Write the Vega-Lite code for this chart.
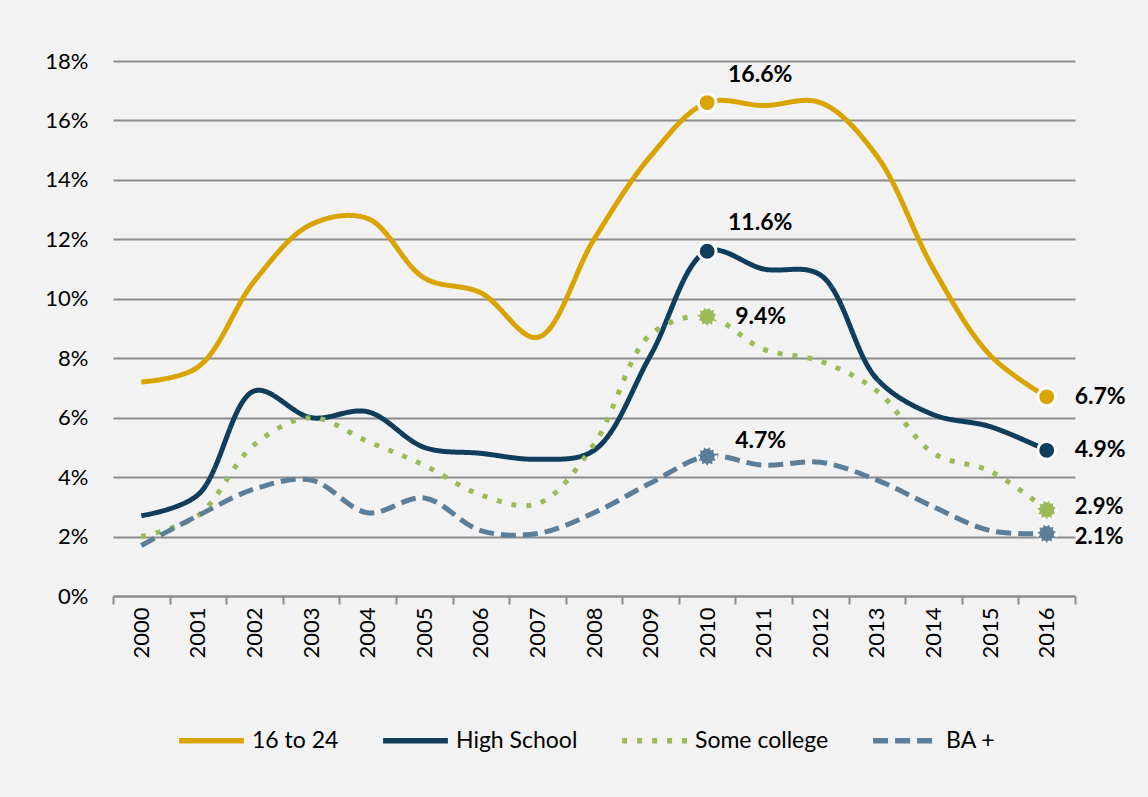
{
  "$schema": "https://vega.github.io/schema/vega-lite/v6.json",
  "width": 962,
  "height": 535,
  "autosize": {"type": "none"},
  "padding": {"left": 113, "top": 61, "right": 73, "bottom": 201},
  "background": "#f2f2f2",
  "config": {
    "view": {"stroke": null},
    "font": "Lato",
    "text": {"font": "Lato"}
  },
  "data": {"values": [
    {"year": "2000", "series": "16 to 24", "value": 0.072},
    {"year": "2001", "series": "16 to 24", "value": 0.077},
    {"year": "2002", "series": "16 to 24", "value": 0.106},
    {"year": "2003", "series": "16 to 24", "value": 0.125},
    {"year": "2004", "series": "16 to 24", "value": 0.127},
    {"year": "2005", "series": "16 to 24", "value": 0.107},
    {"year": "2006", "series": "16 to 24", "value": 0.102},
    {"year": "2007", "series": "16 to 24", "value": 0.087},
    {"year": "2008", "series": "16 to 24", "value": 0.120},
    {"year": "2009", "series": "16 to 24", "value": 0.148},
    {"year": "2010", "series": "16 to 24", "value": 0.166},
    {"year": "2011", "series": "16 to 24", "value": 0.165},
    {"year": "2012", "series": "16 to 24", "value": 0.166},
    {"year": "2013", "series": "16 to 24", "value": 0.148},
    {"year": "2014", "series": "16 to 24", "value": 0.110},
    {"year": "2015", "series": "16 to 24", "value": 0.081},
    {"year": "2016", "series": "16 to 24", "value": 0.067},
    {"year": "2000", "series": "High School", "value": 0.027},
    {"year": "2001", "series": "High School", "value": 0.034},
    {"year": "2002", "series": "High School", "value": 0.069},
    {"year": "2003", "series": "High School", "value": 0.060},
    {"year": "2004", "series": "High School", "value": 0.062},
    {"year": "2005", "series": "High School", "value": 0.050},
    {"year": "2006", "series": "High School", "value": 0.048},
    {"year": "2007", "series": "High School", "value": 0.046},
    {"year": "2008", "series": "High School", "value": 0.049},
    {"year": "2009", "series": "High School", "value": 0.081},
    {"year": "2010", "series": "High School", "value": 0.116},
    {"year": "2011", "series": "High School", "value": 0.110},
    {"year": "2012", "series": "High School", "value": 0.108},
    {"year": "2013", "series": "High School", "value": 0.073},
    {"year": "2014", "series": "High School", "value": 0.061},
    {"year": "2015", "series": "High School", "value": 0.057},
    {"year": "2016", "series": "High School", "value": 0.049},
    {"year": "2000", "series": "Some college", "value": 0.020},
    {"year": "2001", "series": "Some college", "value": 0.027},
    {"year": "2002", "series": "Some college", "value": 0.051},
    {"year": "2003", "series": "Some college", "value": 0.060},
    {"year": "2004", "series": "Some college", "value": 0.052},
    {"year": "2005", "series": "Some college", "value": 0.044},
    {"year": "2006", "series": "Some college", "value": 0.034},
    {"year": "2007", "series": "Some college", "value": 0.031},
    {"year": "2008", "series": "Some college", "value": 0.051},
    {"year": "2009", "series": "Some college", "value": 0.088},
    {"year": "2010", "series": "Some college", "value": 0.094},
    {"year": "2011", "series": "Some college", "value": 0.083},
    {"year": "2012", "series": "Some college", "value": 0.079},
    {"year": "2013", "series": "Some college", "value": 0.069},
    {"year": "2014", "series": "Some college", "value": 0.048},
    {"year": "2015", "series": "Some college", "value": 0.042},
    {"year": "2016", "series": "Some college", "value": 0.029},
    {"year": "2000", "series": "BA +", "value": 0.017},
    {"year": "2001", "series": "BA +", "value": 0.027},
    {"year": "2002", "series": "BA +", "value": 0.036},
    {"year": "2003", "series": "BA +", "value": 0.039},
    {"year": "2004", "series": "BA +", "value": 0.028},
    {"year": "2005", "series": "BA +", "value": 0.033},
    {"year": "2006", "series": "BA +", "value": 0.022},
    {"year": "2007", "series": "BA +", "value": 0.021},
    {"year": "2008", "series": "BA +", "value": 0.028},
    {"year": "2009", "series": "BA +", "value": 0.038},
    {"year": "2010", "series": "BA +", "value": 0.047},
    {"year": "2011", "series": "BA +", "value": 0.044},
    {"year": "2012", "series": "BA +", "value": 0.045},
    {"year": "2013", "series": "BA +", "value": 0.039},
    {"year": "2014", "series": "BA +", "value": 0.030},
    {"year": "2015", "series": "BA +", "value": 0.022},
    {"year": "2016", "series": "BA +", "value": 0.021}
  ]},
  "encoding": {
    "x": {
      "field": "year", "type": "ordinal",
      "scale": {"type": "band", "paddingInner": 0, "paddingOuter": 0},
      "bandPosition": 0.5,
      "axis": {
        "title": null, "labelAngle": -90, "tickBand": "extent",
        "labelFont": "Lato", "labelFontSize": 22, "labelColor": "#000000",
        "domainColor": "#8c8c8c", "domainWidth": 2,
        "tickColor": "#8c8c8c", "tickWidth": 2, "tickSize": 8,
        "labelPadding": 3, "grid": false
      }
    },
    "y": {
      "field": "value", "type": "quantitative",
      "scale": {"domain": [0, 0.18], "nice": false},
      "axis": {
        "title": null, "format": ".0%",
        "values": [0, 0.02, 0.04, 0.06, 0.08, 0.1, 0.12, 0.14, 0.16, 0.18],
        "labelFont": "Lato", "labelFontSize": 22, "labelColor": "#000000",
        "domain": false, "ticks": false, "labelPadding": 25,
        "grid": true, "gridColor": "#8c8c8c", "gridWidth": 2
      }
    }
  },
  "layer": [
    {
      "mark": {"type": "line", "interpolate": "catmull-rom", "strokeWidth": 5},
      "encoding": {
        "color": {
          "field": "series", "type": "nominal",
          "scale": {"domain": ["16 to 24", "High School", "Some college", "BA +"],
                    "range": ["#d9a300", "#0f3d5c", "#9bbb59", "#5b7f9b"]},
          "legend": {
            "title": null, "orient": "none", "direction": "horizontal",
            "legendX": 63, "legendY": 644,
            "symbolType": "stroke", "symbolSize": 4200, "symbolStrokeWidth": 5.5,
            "labelFont": "Lato", "labelFontSize": 23, "labelColor": "#000000",
            "labelOffset": 5, "columnPadding": 33
          }
        },
        "strokeDash": {
          "field": "series", "type": "nominal",
          "scale": {"domain": ["16 to 24", "High School", "Some college", "BA +"],
                    "range": [[1, 0], [1, 0], [5, 10], [15, 7]]},
          "legend": {
            "title": null, "orient": "none", "direction": "horizontal",
            "legendX": 63, "legendY": 644,
            "symbolType": "stroke", "symbolSize": 4200, "symbolStrokeWidth": 5.5,
            "labelFont": "Lato", "labelFontSize": 23, "labelColor": "#000000",
            "labelOffset": 5, "columnPadding": 33
          }
        }
      }
    },
    {
      "transform": [
        {"filter": {"field": "year", "oneOf": ["2010", "2016"]}},
        {"filter": {"field": "series", "oneOf": ["16 to 24", "High School"]}}
      ],
      "mark": {"type": "circle", "size": 320, "stroke": "#ffffff", "strokeWidth": 3, "opacity": 1},
      "encoding": {
        "fill": {
          "field": "series", "type": "nominal",
          "scale": {"domain": ["16 to 24", "High School", "Some college", "BA +"],
                    "range": ["#d9a300", "#0f3d5c", "#9bbb59", "#5b7f9b"]},
          "legend": null
        }
      }
    },
    {
      "transform": [
        {"filter": {"field": "year", "oneOf": ["2010", "2016"]}},
        {"filter": {"field": "series", "oneOf": ["Some college", "BA +"]}}
      ],
      "mark": {"type": "circle", "size": 320, "stroke": "#ffffff", "strokeWidth": 3, "strokeDash": [3, 2], "opacity": 1},
      "encoding": {
        "fill": {
          "field": "series", "type": "nominal",
          "scale": {"domain": ["16 to 24", "High School", "Some college", "BA +"],
                    "range": ["#d9a300", "#0f3d5c", "#9bbb59", "#5b7f9b"]},
          "legend": null
        }
      }
    },
    {
      "transform": [
        {"filter": {"field": "year", "equal": "2010"}},
        {"filter": {"field": "series", "oneOf": ["16 to 24", "High School"]}}
      ],
      "mark": {"type": "text", "align": "center", "baseline": "middle", "dx": 53, "dy": -28,
               "font": "Lato", "fontSize": 23, "fontWeight": "bold", "color": "#000000"},
      "encoding": {"text": {"field": "value", "type": "quantitative", "format": ".1%"}}
    },
    {
      "transform": [
        {"filter": {"field": "year", "equal": "2010"}},
        {"filter": {"field": "series", "equal": "BA +"}}
      ],
      "mark": {"type": "text", "align": "left", "baseline": "middle", "dx": 28, "dy": -15,
               "font": "Lato", "fontSize": 23, "fontWeight": "bold", "color": "#000000"},
      "encoding": {"text": {"field": "value", "type": "quantitative", "format": ".1%"}}
    },
    {
      "transform": [
        {"filter": {"or": [
          {"and": [{"field": "year", "equal": "2016"}, {"field": "series", "oneOf": ["16 to 24", "High School"]}]},
          {"and": [{"field": "year", "equal": "2010"}, {"field": "series", "equal": "Some college"}]}
        ]}}
      ],
      "mark": {"type": "text", "align": "left", "baseline": "middle", "dx": 28, "dy": 0,
               "font": "Lato", "fontSize": 23, "fontWeight": "bold", "color": "#000000"},
      "encoding": {"text": {"field": "value", "type": "quantitative", "format": ".1%"}}
    },
    {
      "transform": [
        {"filter": {"field": "year", "equal": "2016"}},
        {"filter": {"field": "series", "equal": "Some college"}}
      ],
      "mark": {"type": "text", "align": "left", "baseline": "middle", "dx": 28, "dy": -3,
               "font": "Lato", "fontSize": 22, "fontWeight": "bold", "color": "#000000"},
      "encoding": {"text": {"field": "value", "type": "quantitative", "format": ".1%"}}
    },
    {
      "transform": [
        {"filter": {"field": "year", "equal": "2016"}},
        {"filter": {"field": "series", "equal": "BA +"}}
      ],
      "mark": {"type": "text", "align": "left", "baseline": "middle", "dx": 28, "dy": 3,
               "font": "Lato", "fontSize": 22, "fontWeight": "bold", "color": "#000000"},
      "encoding": {"text": {"field": "value", "type": "quantitative", "format": ".1%"}}
    }
  ]
}
